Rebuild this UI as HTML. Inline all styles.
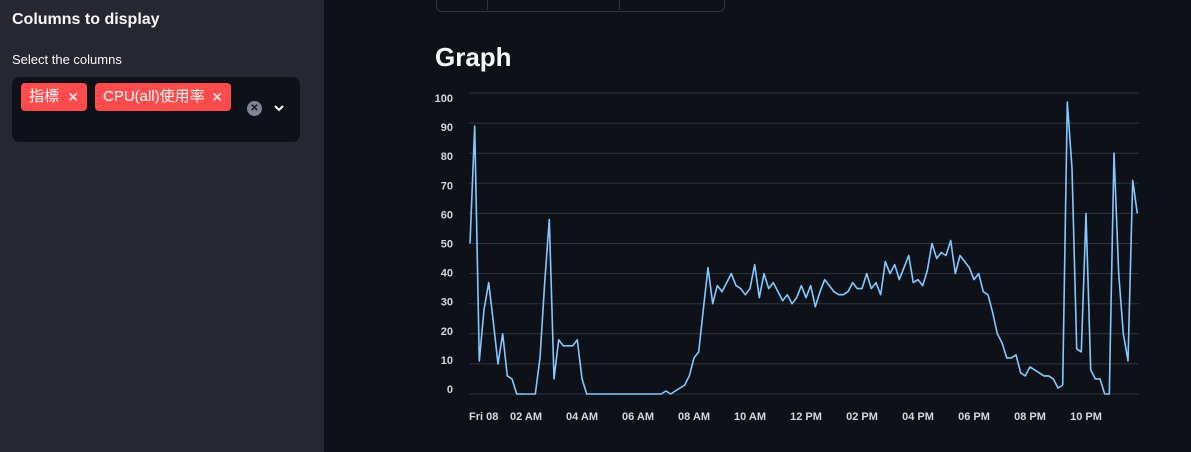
<!DOCTYPE html>
<html><head><meta charset="utf-8"><style>
body{margin:0;width:1191px;height:452px;background:#0e1117;font-family:"Liberation Sans","Noto Sans CJK JP",sans-serif;color:#fafafa;overflow:hidden;position:relative}
#side{position:absolute;left:0;top:0;width:324px;height:452px;background:#262730}
.tag{position:absolute;top:83px;height:28px;background:#ff4b4b;border-radius:4px;color:#fff;font-size:15px;line-height:28px;padding-left:8px;box-sizing:border-box}
</style></head><body>
<div id="side">
<div style="position:absolute;left:12px;top:11px;font-size:16px;font-weight:bold">Columns to display</div>
<div style="position:absolute;left:12px;top:52px;font-size:13px">Select the columns</div>
<div style="position:absolute;left:12px;top:77px;width:288px;height:65px;background:#0e1117;border-radius:8px"></div>
<div class="tag" style="left:21px;width:66px">指標 <span style="position:absolute;right:8px;font-size:14px">✕</span></div>
<div class="tag" style="left:95px;width:136px">CPU(all)使用率 <span style="position:absolute;right:8px;font-size:14px">✕</span></div>
<div style="position:absolute;left:247px;top:101px;width:15px;height:15px;border-radius:50%;background:#808495;color:#0e1117;font-size:10px;line-height:15px;text-align:center;font-weight:bold">✕</div>
<svg style="position:absolute;left:273px;top:103px" width="12" height="10"><path d="M2 3 L6 7 L10 3" stroke="#fafafa" stroke-width="2" fill="none"/></svg>
</div>
<div style="position:absolute;left:436px;top:-10px;width:287px;height:20px;border:1px solid #31333f;border-radius:6px"></div>
<div style="position:absolute;left:487px;top:0;width:1px;height:10px;background:#31333f"></div>
<div style="position:absolute;left:619px;top:0;width:1px;height:10px;background:#31333f"></div>
<div style="position:absolute;left:435px;top:42px;font-size:26px;font-weight:bold">Graph</div>
<svg id="chart" style="position:absolute;left:0;top:0" width="1191" height="452"></svg>
<script>
const hours=["Fri 08","02 AM","04 AM","06 AM","08 AM","10 AM","12 PM","02 PM","04 PM","06 PM","08 PM","10 PM"];
const yTicks=[0,10,20,30,40,50,60,70,80,90,100];
const cpuValues=[
50,89,11,28,37,24, 10,20,6,5,0,0, 0,0,0,12,37,58, 5,18,16,16,16,18, 5,0,0,0,0,0,
0,0,0,0,0,0, 0,0,0,0,0,0, 1,0,1,2,3,6, 12,14,28,42,30,36, 34,37,40,36,35,33,
35,43,32,40,35,37, 34,31,33,30,32,36, 32,36,29,34,38,36, 34,33,33,34,37,35, 35,40,35,37,33,44,
40,43,38,42,46,37, 38,36,41,50,45,47, 46,51,40,46,44,42, 38,40,34,33,27,20, 17,12,12,13,7,6,
9,8,7,6,6,5, 2,3,97,75,15,14, 60,8,5,5,0,0, 80,40,20,11,71,60];
const ns="http://www.w3.org/2000/svg",svg=document.getElementById('chart');
const x0=470,pxPerHour=28,xEnd=1139,yZero=394,yTop=93;
const xs=m=>x0+m/60*pxPerHour, ys=v=>yZero-(v/100)*(yZero-yTop);
const labelY=v=>389-(v/100)*(389-98)+4;
function mk(t,a){const e=document.createElementNS(ns,t);for(const k in a)e.setAttribute(k,a[k]);svg.appendChild(e);return e;}
yTicks.forEach(v=>{
 const g=mk('line',{x1:469,x2:xEnd,y1:ys(v),y2:ys(v),stroke:'#31333f','stroke-width':1});
 
 
 const t=mk('text',{x:453,y:labelY(v),'text-anchor':'end','font-size':11,'font-weight':'bold',fill:'#d6d6d9','font-family':'Liberation Sans'});
 t.textContent=v;
 
 
});
hours.forEach((h,i)=>{
 const t=mk('text',{x:xs(i*120)+(i===0?-1:0),y:420,'text-anchor':i===0?'start':'middle','font-size':11,'font-weight':'bold',fill:'#d6d6d9','font-family':'Liberation Sans'});
 t.textContent=h;
 
 
});
const d=cpuValues.map((v,i)=>(i?'L':'M')+xs(i*10).toFixed(1)+' '+ys(v).toFixed(1)).join(' ');
const p=mk('path',{d:d,fill:'none',stroke:'#83c9ff','stroke-width':1.6,'stroke-linejoin':'round'});


</script>
</body></html>
